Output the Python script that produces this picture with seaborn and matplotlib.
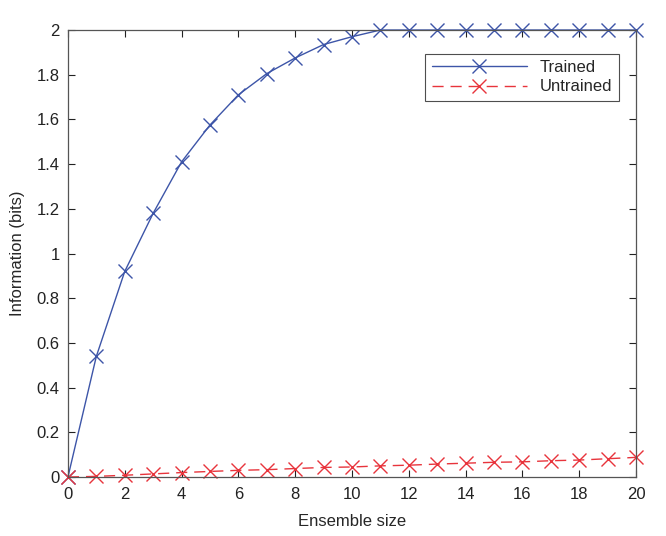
import numpy as np
import pandas as pd
import seaborn as sns
import matplotlib.pyplot as plt

# Data
ensemble = list(range(21))
trained = [0, 0.54, 0.92, 1.18, 1.41, 1.575, 1.71, 1.805, 1.875, 1.935, 1.97,
           2.0, 2.0, 2.0, 2.0, 2.0, 2.0, 2.0, 2.0, 2.0, 2.0]
untrained = [0, 0.003, 0.008, 0.014, 0.02, 0.025, 0.03, 0.033, 0.038, 0.043, 0.045,
             0.05, 0.053, 0.058, 0.062, 0.066, 0.068, 0.073, 0.076, 0.082, 0.088]

df = pd.DataFrame({
    "Ensemble size": ensemble * 2,
    "Information": trained + untrained,
    "Condition": ["Trained"] * 21 + ["Untrained"] * 21,
})

sns.set_style("white")
plt.rcParams["font.family"] = ["Liberation Sans", "DejaVu Sans"]

fig = plt.figure(figsize=(6.66, 5.36), dpi=100)
ax = fig.add_axes([0.102, 0.110, 0.853, 0.834])

sns.lineplot(
    ax=ax, data=df, x="Ensemble size", y="Information",
    hue="Condition", style="Condition",
    palette={"Trained": "#3D55A8", "Untrained": "#E8343C"},
    dashes={"Trained": "", "Untrained": (8, 5)},
    markers={"Trained": "x", "Untrained": "x"},
    markersize=10, markeredgewidth=1.0, linewidth=1.0,
)

# seaborn paints marker edges white; 'x' needs the line colour
for line in ax.get_lines():
    line.set_markeredgecolor(line.get_color())
    line.set_clip_on(False)

ax.set_xlim(0, 20)
ax.set_ylim(0, 2)
ax.set_xticks(range(0, 21, 2))
ax.set_yticks(np.arange(0, 2.01, 0.2))
ax.set_yticklabels(["0", "0.2", "0.4", "0.6", "0.8", "1", "1.2", "1.4", "1.6", "1.8", "2"])
ax.set_xlabel("Ensemble size", fontsize=12, labelpad=9)
ax.set_ylabel("Information (bits)", fontsize=12, labelpad=8)
ax.tick_params(direction="in", length=5, width=0.8, labelsize=12, colors="#222222",
               top=True, right=True, bottom=True, left=True)
ax.tick_params(axis="x", pad=7)
ax.tick_params(axis="y", pad=6)
for s in ax.spines.values():
    s.set_color("#555555")
    s.set_linewidth(0.9)

leg = ax.legend(loc="upper right", bbox_to_anchor=(0.985, 0.966), fontsize=12,
                frameon=True, fancybox=False, edgecolor="#222222",
                handlelength=5.7, borderpad=0.4, labelspacing=0.25)
leg.get_frame().set_linewidth(0.8)
for h in leg.legend_handles:
    h.set_markeredgecolor(h.get_color())

plt.savefig("out.png", dpi=100)
